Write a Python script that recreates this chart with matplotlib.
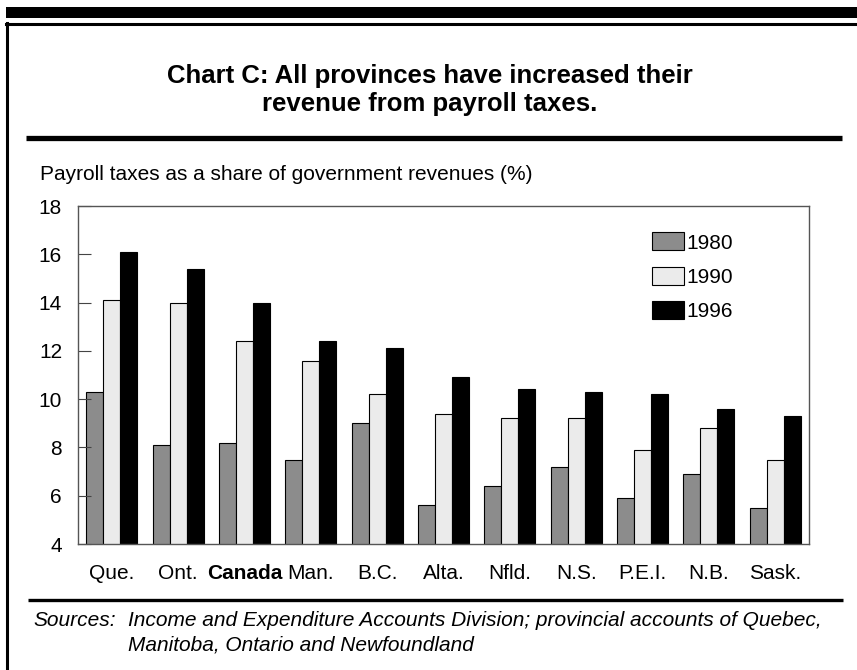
""" Chart C: payroll taxes as a share of provincial government revenues. """

import numpy as np
import matplotlib.pyplot as plt
from matplotlib.patches import Rectangle
from matplotlib.lines import Line2D

plt.rcParams['font.family'] = ['Liberation Sans', 'DejaVu Sans']

W, H = 857, 670
DPI = 100

provinces = ['Que.', 'Ont.', 'Canada', 'Man.', 'B.C.', 'Alta.', 'Nfld.',
             'N.S.', 'P.E.I.', 'N.B.', 'Sask.']
years = ['1980', '1990', '1996']
share_1980 = [10.3, 8.1, 8.2, 7.5, 9.0, 5.6, 6.4, 7.2, 5.9, 6.9, 5.5]
share_1990 = [14.1, 14.0, 12.4, 11.6, 10.2, 9.4, 9.2, 9.2, 7.9, 8.8, 7.5]
share_1996 = [16.1, 15.4, 14.0, 12.4, 12.1, 10.9, 10.4, 10.3, 10.2, 9.6, 9.3]
y_ticks = [4, 6, 8, 10, 12, 14, 16, 18]

COLORS = ['#8c8c8c', '#ebebeb', '#000000']
FS = 15  # Body text size.


def fx(px):
    """ Pixel x to figure fraction. """
    return px / W


def fy(py):
    """ Pixel y (from top) to figure fraction. """
    return 1 - py / H


fig = plt.figure(figsize=(W / DPI, H / DPI), dpi=DPI)

# Frame decorations.
fig.patches.append(Rectangle((fx(6), fy(17.5)), 1, 10.5 / H, transform=fig.transFigure,
                             facecolor='black', edgecolor='none'))
fig.lines.append(Line2D([fx(7), fx(7)], [fy(23), 0], transform=fig.transFigure,
                        color='black', lw=2.2))
fig.lines.append(Line2D([fx(6), 1], [fy(24), fy(24)], transform=fig.transFigure,
                        color='black', lw=2.2))
fig.lines.append(Line2D([fx(26), fx(842)], [fy(137.5), fy(137.5)], transform=fig.transFigure,
                        color='black', lw=3.8, solid_capstyle='butt'))
fig.lines.append(Line2D([fx(28), fx(843)], [fy(599.5), fy(599.5)], transform=fig.transFigure,
                        color='black', lw=2.4, solid_capstyle='butt'))

fig.text(fx(430), fy(76), 'Chart C: All provinces have increased their',
         ha='center', va='center', fontsize=18.5, fontweight='bold')
fig.text(fx(430), fy(104), 'revenue from payroll taxes.',
         ha='center', va='center', fontsize=18.5, fontweight='bold')
fig.text(fx(40), fy(174), 'Payroll taxes as a share of government revenues (%)',
         ha='left', va='center', fontsize=FS)
fig.text(fx(33), fy(621), 'Sources:', ha='left', va='center', fontsize=FS, style='italic')
fig.text(fx(128), fy(621),
         'Income and Expenditure Accounts Division; provincial accounts of Quebec,',
         ha='left', va='center', fontsize=FS, style='italic')
fig.text(fx(128), fy(645), 'Manitoba, Ontario and Newfoundland',
         ha='left', va='center', fontsize=FS, style='italic')

ax = fig.add_axes([fx(78), fy(544), fx(809) - fx(78), fy(206) - fy(544)])

x = np.arange(len(provinces))
width = 0.255
for i, (vals, label) in enumerate(zip([share_1980, share_1990, share_1996], years)):
    ax.bar(x + (i - 1) * width, vals, width, bottom=0, color=COLORS[i],
           edgecolor='black', linewidth=0.8, label=label)

ax.set_ylim(4, 18)
ax.set_xlim(-0.51, len(provinces) - 0.49)
ax.set_yticks(y_ticks)
ax.tick_params(axis='y', direction='in', length=9, width=0.8, color='#444444',
               labelsize=FS, pad=11.5)
ax.set_xticks(x)
ax.set_xticklabels(provinces, fontsize=FS)
ax.tick_params(axis='x', length=0, pad=14.5)
ax.get_xticklabels()[2].set_fontweight('bold')
for side in ax.spines:
    ax.spines[side].set_color('#555555')
    ax.spines[side].set_linewidth(1.0)

ax.legend(loc='upper left', bbox_to_anchor=(fx(652 - 78) / (fx(809) - fx(78)), 0.922),
          frameon=False, fontsize=FS, handlelength=1.55, handleheight=0.95,
          handletextpad=0.12, labelspacing=0.68, borderaxespad=0, borderpad=0)

fig.savefig('out.png', dpi=DPI)
